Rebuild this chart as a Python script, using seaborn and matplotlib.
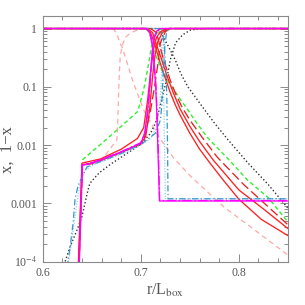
import matplotlib
matplotlib.use("Agg")
import matplotlib.pyplot as plt
import matplotlib.ticker as mticker
import seaborn as sns
import numpy as np

# neutral fraction x (rising) and 1-x (falling) vs r/L_box, one pair per curve
# black dotted
r_dot_x = [0.620, 0.6228, 0.628, 0.635, 0.640, 0.6454, 0.648, 0.6556, 0.660, 0.670, 0.680, 0.690,
           0.700, 0.710, 0.715, 0.718, 0.722, 0.727, 0.730, 0.7355, 0.7427, 0.751, 0.768, 0.850]
dot_x = [5e-5, 1.0e-4, 1.8e-4, 3.5e-4, 5.9e-4, 1.5e-3, 2.2e-3, 3.1e-3, 3.6e-3, 4.8e-3, 6.2e-3, 8.0e-3,
         0.0103, 0.016, 0.024, 0.036, 0.067, 0.15, 0.29, 0.57, 0.78, 0.95, 1.0, 1.0]
r_dot_y = [0.600, 0.715, 0.720, 0.725, 0.730, 0.7355, 0.7407, 0.748, 0.761, 0.775, 0.789, 0.809,
           0.830, 0.850]
dot_y = [1.0, 1.0, 0.88, 0.62, 0.43, 0.28, 0.17, 0.1, 0.05, 0.024, 0.0123, 0.005,
         0.0021, 0.00083]

# green short dashed
r_grn_x = [0.6405, 0.659, 0.680, 0.697, 0.703, 0.707, 0.711, 0.714, 0.720, 0.730, 0.850]
grn_x = [0.0056, 0.0103, 0.021, 0.038, 0.09, 0.2, 0.5, 0.75, 0.95, 1.0, 1.0]
r_grn_y = [0.600, 0.705, 0.709, 0.712, 0.716, 0.721, 0.727, 0.7335, 0.740, 0.748, 0.757, 0.768,
           0.789, 0.809, 0.830, 0.850]
grn_y = [1.0, 1.0, 0.85, 0.5, 0.32, 0.2, 0.13, 0.09, 0.062, 0.04, 0.024, 0.0135,
         0.0058, 0.0025, 0.00125, 0.00048]

# red solid (1)
r_rd1_x = [0.6362, 0.6400, 0.659, 0.680, 0.6966, 0.703, 0.707, 0.710, 0.713, 0.716, 0.720, 0.725,
           0.730, 0.850]
rd1_x = [8e-5, 0.0049, 0.0058, 0.0085, 0.013, 0.02, 0.06, 0.18, 0.45, 0.7, 0.88, 0.97, 1.0, 1.0]
r_rd1_y = [0.600, 0.705, 0.710, 0.714, 0.720, 0.725, 0.730, 0.735, 0.740, 0.750, 0.760, 0.771,
           0.785, 0.800, 0.823, 0.850]
rd1_y = [1.0, 1.0, 0.85, 0.55, 0.25, 0.14, 0.08, 0.05, 0.033, 0.016, 0.0085, 0.0048,
         0.0024, 0.00118, 0.00053, 0.00028]

# red solid (2)
r_rd2_x = [0.6366, 0.6402, 0.650, 0.660, 0.680, 0.700, 0.705, 0.709, 0.712, 0.7145, 0.7175, 0.722,
           0.728, 0.850]
rd2_x = [8e-5, 0.0046, 0.0049, 0.0056, 0.0076, 0.0106, 0.014, 0.04, 0.15, 0.35, 0.6, 0.85, 1.0, 1.0]
r_rd2_y = [0.600, 0.707, 0.712, 0.7165, 0.722, 0.727, 0.733, 0.740, 0.750, 0.760, 0.774, 0.800,
           0.826, 0.850]
rd2_y = [1.0, 1.0, 0.85, 0.5, 0.27, 0.15, 0.08, 0.042, 0.021, 0.0115, 0.0055, 0.0017,
         0.00078, 0.00037]

# red long dashed
r_rdd_x = [0.6368, 0.6405, 0.650, 0.660, 0.680, 0.700, 0.703, 0.710, 0.714, 0.717, 0.720, 0.725,
           0.730, 0.850]
rdd_x = [8e-5, 0.0045, 0.0048, 0.0055, 0.0075, 0.0104, 0.012, 0.04, 0.1, 0.22, 0.57, 0.88, 1.0, 1.0]
r_rdd_y = [0.600, 0.710, 0.716, 0.7195, 0.723, 0.730, 0.7356, 0.742, 0.750, 0.762, 0.778, 0.805,
           0.830, 0.850]
rdd_y = [1.0, 1.0, 0.85, 0.5, 0.3, 0.13, 0.075, 0.045, 0.027, 0.014, 0.0062, 0.0021,
         0.00087, 0.00043]

# magenta solid
r_mag_x = [0.6372, 0.6405, 0.650, 0.660, 0.680, 0.700, 0.704, 0.707, 0.709, 0.711, 0.713, 0.716,
           0.720, 0.850]
mag_x = [8e-5, 0.0045, 0.0049, 0.0056, 0.0076, 0.0108, 0.016, 0.04, 0.1, 0.3, 0.6, 0.9, 1.0, 1.0]
r_mag_y = [0.600, 0.706, 0.709, 0.712, 0.715, 0.7165, 0.7175, 0.7185, 0.7190, 0.850]
mag_y = [1.0, 1.0, 0.85, 0.5, 0.12, 0.03, 0.008, 0.0025, 0.0011, 0.0011]

# magenta dash-dot
r_mgd_x = [0.6370, 0.6403, 0.650, 0.660, 0.680, 0.700, 0.705, 0.708, 0.710, 0.712, 0.714, 0.717,
           0.721, 0.850]
mgd_x = [8e-5, 0.0046, 0.0050, 0.0057, 0.0077, 0.0110, 0.018, 0.05, 0.15, 0.45, 0.75, 0.93, 1.0, 1.0]
r_mgd_y = [0.600, 0.707, 0.710, 0.7125, 0.7155, 0.717, 0.718, 0.7188, 0.7193, 0.850]
mgd_y = [1.0, 1.0, 0.8, 0.45, 0.1, 0.025, 0.007, 0.002, 0.00112, 0.00112]

# cyan dash-dot
r_cyn_x = [0.6245, 0.626, 0.628, 0.631, 0.633, 0.636, 0.640, 0.645, 0.650, 0.660, 0.680, 0.700,
           0.708, 0.715, 0.720, 0.7215, 0.722, 0.7235, 0.7245, 0.726, 0.7275, 0.850]
cyn_x = [8e-5, 1.1e-4, 1.8e-4, 4.6e-4, 1.2e-3, 2.0e-3, 2.8e-3, 4.2e-3, 4.6e-3, 5.3e-3, 7.2e-3, 0.0102,
         0.013, 0.016, 0.027, 0.05, 0.1, 0.25, 0.5, 0.8, 1.0, 1.0]
r_cyn_y = [0.600, 0.720, 0.7225, 0.724, 0.7255, 0.7265, 0.7272, 0.7278, 0.850]
cyn_y = [1.0, 1.0, 0.8, 0.5, 0.2, 0.07, 0.012, 0.0012, 0.0012]

# light blue dotted
r_lbl_x = [0.6255, 0.630, 0.634, 0.638, 0.643, 0.650, 0.660, 0.680, 0.700, 0.710, 0.716, 0.719,
           0.7205, 0.722, 0.7232, 0.7245, 0.850]
lbl_x = [8e-5, 2.5e-4, 8e-4, 2.2e-3, 3.6e-3, 4.5e-3, 5.2e-3, 7.0e-3, 0.0100, 0.013, 0.02, 0.04,
         0.1, 0.3, 0.6, 1.0, 1.0]
r_lbl_y = [0.600, 0.718, 0.7205, 0.722, 0.7232, 0.7242, 0.7250, 0.850]
lbl_y = [1.0, 1.0, 0.7, 0.4, 0.1, 0.01, 0.0012, 0.0012]

# pink dashed
r_pnk_x = [0.664, 0.6757, 0.6765, 0.6772, 0.678, 0.679, 0.681, 0.684, 0.690, 0.697, 0.710, 0.850]
pnk_x = [0.0068, 0.0123, 0.025, 0.06, 0.15, 0.33, 0.5, 0.7, 0.85, 0.95, 1.0, 1.0]
r_pnk_y = [0.600, 0.672, 0.676, 0.679, 0.681, 0.686, 0.6925, 0.703, 0.717, 0.7335, 0.751, 0.785,
           0.8124, 0.850]
pnk_y = [1.0, 1.0, 0.78, 0.55, 0.48, 0.26, 0.117, 0.04, 0.015, 0.006, 0.0029, 0.00086,
         0.00039, 0.00013]

y_ticks = [1e-4, 1e-3, 1e-2, 1e-1, 1]
y_ticklabels = ['10$^{-4}$', '0.001', '0.01', '0.1', '1']
x_ticks = [0.6, 0.7, 0.8]

sns.set_style("ticks")
plt.rcParams['font.family'] = ['Liberation Serif', 'DejaVu Serif']
plt.rcParams['mathtext.fontset'] = 'stix'

fig = plt.figure(figsize=(3.05, 3.05), dpi=100)
ax = fig.add_axes([0.14, 0.142, 0.804, 0.806])

curves = [
    (r_pnk_x, pnk_x, r_pnk_y, pnk_y, '#ffa8a8', (0, (4, 3)), 0.9),
    (r_dot_x, dot_x, r_dot_y, dot_y, '#333333', (0, (1, 1.6)), 1.0),
    (r_lbl_x, lbl_x, r_lbl_y, lbl_y, '#99ccee', (0, (1, 1.2)), 0.9),
    (r_grn_x, grn_x, r_grn_y, grn_y, '#33ee33', (0, (3, 2)), 1.0),
    (r_rd1_x, rd1_x, r_rd1_y, rd1_y, '#ff2020', '-', 0.95),
    (r_rd2_x, rd2_x, r_rd2_y, rd2_y, '#ff2020', '-', 0.95),
    (r_rdd_x, rdd_x, r_rdd_y, rdd_y, '#e82020', (0, (7, 3)), 0.95),
    (r_cyn_x, cyn_x, r_cyn_y, cyn_y, '#3399cc', (0, (5, 2, 1, 2)), 0.9),
    (r_mag_x, mag_x, r_mag_y, mag_y, '#ff00ff', '-', 0.95),
    (r_mgd_x, mgd_x, r_mgd_y, mgd_y, '#ff00ff', (0, (7, 2, 1, 2)), 0.95),
]

for rx, xv, ry, yv, col, ls, lw in curves:
    sns.lineplot(x=rx, y=xv, ax=ax, color=col, linestyle=ls, lw=lw, sort=False)
    sns.lineplot(x=ry, y=yv, ax=ax, color=col, linestyle=ls, lw=lw, sort=False)

ax.set_yscale('log')
ax.set_xlim(0.6, 0.85)
ax.set_ylim(1e-4, 1.65)

ax.yaxis.set_major_locator(mticker.FixedLocator(y_ticks))
ax.yaxis.set_major_formatter(mticker.FixedFormatter(y_ticklabels))
ax.yaxis.set_minor_locator(mticker.LogLocator(subs=np.arange(2, 10)))
ax.yaxis.set_minor_formatter(mticker.NullFormatter())
ax.xaxis.set_major_locator(mticker.FixedLocator(x_ticks))
ax.xaxis.set_major_formatter(mticker.FormatStrFormatter('%.1f'))
ax.xaxis.set_minor_locator(mticker.MultipleLocator(0.02))

gray = '#8a8a8a'
for sp in ax.spines.values():
    sp.set_color(gray)
    sp.set_linewidth(0.8)
ax.tick_params(which='both', direction='in', top=True, right=True, color=gray,
               labelcolor='#555555', labelsize=8.5, width=0.7)
ax.tick_params(which='major', length=6, pad=4)
ax.tick_params(which='minor', length=3)

ax.set_xlabel('r/L$_{\\rm box}$', fontsize=11.5, color='#555555', labelpad=2)
ax.set_ylabel('x,  1\u2212x', fontsize=12, color='#555555')
ax.yaxis.set_label_coords(-0.11, 0.455)

fig.savefig('out.png', dpi=100)
